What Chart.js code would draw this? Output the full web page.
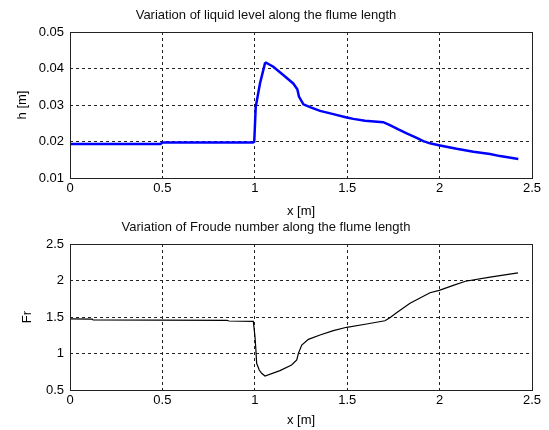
<!DOCTYPE html>
<html>
<head>
<meta charset="utf-8">
<script src="https://cdn.jsdelivr.net/npm/chart.js@4.4.0/dist/chart.umd.min.js"></script>
<style>
    html, body { margin: 0; padding: 0; background: #fff; }
    #wrap { position: relative; width: 549px; height: 430px; overflow: hidden; }
    canvas { position: absolute; left: 0; }
    #levelChart { top: 0; }
    #froudeChart { top: 205px; }
</style>
</head>
<body>
<div id="wrap">
    <canvas id="levelChart" width="549" height="225"></canvas>
    <canvas id="froudeChart" width="549" height="225"></canvas>
</div>
<script>
// liquid level h [m] along the flume
var levelX = [0, 0.49, 0.5, 0.99, 0.997, 1.005, 1.028, 1.055, 1.061, 1.10, 1.154, 1.208, 1.230, 1.239,
              1.263, 1.299, 1.353, 1.425, 1.497, 1.533, 1.596, 1.695, 1.731, 1.777, 1.822, 1.876,
              1.912, 1.948, 2.002, 2.092, 2.183, 2.273, 2.327, 2.426];
var levelH = [0.0193, 0.0193, 0.0197, 0.0197, 0.0199, 0.0295, 0.0359, 0.0414, 0.0416, 0.0405, 0.0382, 0.0359, 0.0343, 0.0323,
              0.0302, 0.0294, 0.0284, 0.0275, 0.0266, 0.0262, 0.0257, 0.0253, 0.0245, 0.0233, 0.0222, 0.0210,
              0.0201, 0.0195, 0.0189, 0.0180, 0.0172, 0.0166, 0.0160, 0.0152];

// Froude number along the flume
var froudeX = [0, 0.12, 0.125, 0.85, 0.86, 0.992, 1.001, 1.006, 1.010, 1.024, 1.037, 1.055, 1.136, 1.199,
               1.227, 1.236, 1.254, 1.290, 1.353, 1.425, 1.497, 1.605, 1.704, 1.731, 1.767, 1.840,
               1.948, 1.998, 2.07, 2.14, 2.273, 2.424];
var froudeFr = [1.475, 1.47, 1.46, 1.455, 1.445, 1.44, 1.23, 1.048, 0.866, 0.774, 0.729, 0.692, 0.765, 0.842,
                0.911, 1.002, 1.116, 1.194, 1.253, 1.313, 1.359, 1.404, 1.449, 1.491, 1.559, 1.688,
                1.833, 1.864, 1.93, 1.99, 2.045, 2.105];

var xTicks = [0, 0.5, 1, 1.5, 2, 2.5];
var levelTicks = [0.01, 0.02, 0.03, 0.04, 0.05];
var froudeTicks = [0.5, 1, 1.5, 2, 2.5];

var FONT = 'Liberation Sans, Arial, Helvetica, sans-serif';

// axes box drawn over everything, like MATLAB's "box on"
var framePlugin = {
    id: 'frame',
    afterDraw: function (chart) {
        var a = chart.chartArea, ctx = chart.ctx;
        ctx.save();
        ctx.strokeStyle = '#222';
        ctx.lineWidth = 1;
        ctx.strokeRect(Math.round(a.left) + 0.5, Math.round(a.top) + 0.5,
                       Math.round(a.right - a.left), Math.round(a.bottom - a.top));
        ctx.restore();
    }
};

function fixedTicks(list) {
    return function (scale) { scale.ticks = list.map(function (v) { return { value: v }; }); };
}

function makeChart(id, cfg) {
    return new Chart(document.getElementById(id).getContext('2d'), {
        type: 'line',
        data: {
            datasets: [{
                data: cfg.xs.map(function (x, i) { return { x: x, y: cfg.ys[i] }; }),
                borderColor: cfg.color,
                borderWidth: cfg.width,
                pointRadius: 0,
                tension: 0,
                fill: false
            }]
        },
        options: {
            responsive: false,
            animation: false,
            layout: { padding: { left: 0, right: 17, top: 0, bottom: cfg.padBottom } },
            plugins: {
                legend: { display: false },
                tooltip: { enabled: false },
                title: {
                    display: true,
                    text: cfg.title,
                    color: '#111',
                    font: { family: FONT, size: 13, weight: 'normal' },
                    padding: { top: cfg.titleTop, bottom: cfg.titleBottom }
                }
            },
            scales: {
                x: {
                    type: 'linear',
                    min: 0, max: 2.5,
                    afterBuildTicks: fixedTicks(xTicks),
                    afterFit: function (s) { s.height = cfg.xAxisHeight; },
                    grid: { color: '#222', lineWidth: 1, drawTicks: false },
                    border: { display: false, dash: [3, 3] },
                    ticks: {
                        color: '#000', padding: 3, maxRotation: 0, autoSkip: false,
                        font: { family: FONT, size: 13 },
                        callback: function (v) { return String(v); }
                    },
                    title: {
                        display: true, text: 'x [m]', color: '#000',
                        font: { family: FONT, size: 13 },
                        padding: { top: 0, bottom: 0 }
                    }
                },
                y: {
                    type: 'linear',
                    min: cfg.yTicks[0], max: cfg.yTicks[cfg.yTicks.length - 1],
                    afterBuildTicks: fixedTicks(cfg.yTicks),
                    afterFit: function (s) { s.width = 70; },
                    grid: { color: '#222', lineWidth: 1, drawTicks: false },
                    border: { display: false, dash: [3, 3] },
                    ticks: {
                        color: '#000', padding: 6, autoSkip: false,
                        font: { family: FONT, size: 13 },
                        callback: cfg.yLabel
                    },
                    title: {
                        display: true, text: cfg.yTitle, color: '#000',
                        font: { family: FONT, size: 13 },
                        padding: { top: cfg.yTitlePad, bottom: 0 }
                    }
                }
            }
        },
        plugins: [framePlugin]
    });
}

makeChart('levelChart', {
    xs: levelX, ys: levelH, color: '#0000ff', width: 2.5,
    title: 'Variation of liquid level along the flume length',
    titleTop: 7.2, titleBottom: 9.2,
    xAxisHeight: 40.8, padBottom: 6.2,
    yTicks: levelTicks, yTitle: 'h [m]', yTitlePad: 14.7,
    yLabel: function (v) { return v.toFixed(2); }
});

makeChart('froudeChart', {
    xs: froudeX, ys: froudeFr, color: '#000', width: 1.2,
    title: 'Variation of Froude number along the flume length',
    titleTop: 14.2, titleBottom: 9.2,
    xAxisHeight: 37.8, padBottom: 2.2,
    yTicks: froudeTicks, yTitle: 'Fr', yTitlePad: 19.2,
    yLabel: function (v) { return String(v); }
});
</script>
</body>
</html>
